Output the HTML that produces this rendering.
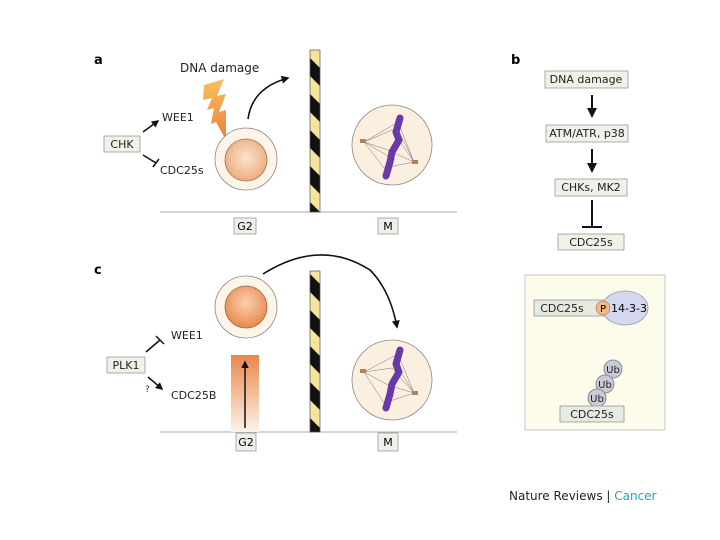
<!DOCTYPE html>
<html><head><meta charset="utf-8"><style>
body{margin:0;background:#fff;}
svg{display:block;font-family:"DejaVu Sans","Liberation Sans",sans-serif;}
</style></head><body>
<svg width="720" height="540" viewBox="0 0 720 540" xmlns="http://www.w3.org/2000/svg">
<defs>
<marker id="ah" viewBox="0 0 10 10" refX="8" refY="5" markerWidth="5" markerHeight="5" orient="auto"><path d="M0,0L10,5L0,10z" fill="#111"/></marker>
<pattern id="stripe" patternUnits="userSpaceOnUse" width="10" height="36" patternTransform="skewY(45)">
<rect width="10" height="18" fill="#111"/><rect y="18" width="10" height="18" fill="#f6e49a"/></pattern>
<radialGradient id="nucA" cx="0.5" cy="0.45" r="0.6"><stop offset="0" stop-color="#fbe3d0"/><stop offset="1" stop-color="#eda777"/></radialGradient>
<radialGradient id="nucC" cx="0.5" cy="0.4" r="0.6"><stop offset="0" stop-color="#fbd0b0"/><stop offset="1" stop-color="#e8884a"/></radialGradient>
<linearGradient id="bar" x1="0" y1="0" x2="0" y2="1"><stop offset="0" stop-color="#e8874a"/><stop offset="1" stop-color="#fdf3e8"/></linearGradient>
<linearGradient id="bolt" x1="0" y1="0" x2="0" y2="1"><stop offset="0" stop-color="#f9c060"/><stop offset="1" stop-color="#e8803a"/></linearGradient>
</defs>

<!-- Panel a -->
<text x="94" y="64" font-size="13" font-weight="bold">a</text>
<line x1="160" y1="212" x2="457" y2="212" stroke="#aaa" stroke-width="1"/>
<rect x="310" y="50" width="10" height="162" fill="url(#stripe)" stroke="#555" stroke-width="0.7"/>
<text x="180" y="72" font-size="12" fill="#222">DNA damage</text>
<path d="M204,85 L224,79 L217,96 L226,94 L219,112 L226,110 L226,140 L216,122 L211,124 L214,108 L207,110 L212,98 L203,100 Z" fill="url(#bolt)"/>
<path d="M248,119 Q252,88 288,78" fill="none" stroke="#111" stroke-width="1.6" marker-end="url(#ah)"/>
<circle cx="246" cy="159" r="31" fill="#fdf5e8" stroke="#888" stroke-width="0.8"/>
<circle cx="246" cy="160" r="21" fill="url(#nucA)" stroke="#a07050" stroke-width="0.8"/>
<circle cx="392" cy="145" r="40" fill="#fbf0e0" stroke="#888" stroke-width="0.8"/>
<g stroke="#777" stroke-width="0.5"><path d="M364,142 L398,122 M364,142 L392,130 M364,142 L388,150 M364,142 L384,168 M364,142 L395,160 M414,162 L398,122 M414,162 L392,130 M414,162 L388,150 M414,162 L384,168 M414,162 L402,138"/></g>
<path d="M400,118 L396,132 L399,140 L392,152 L390,162 L386,176" stroke="#6a38a8" stroke-width="7" fill="none" stroke-linecap="round" stroke-linejoin="round"/>
<rect x="360" y="139" width="6" height="4" fill="#b0805a"/><rect x="412" y="160" width="6" height="4" fill="#b0805a"/>
<rect x="104" y="136" width="36" height="16" fill="#eef2e8" stroke="#999" stroke-width="0.8"/>
<text x="122" y="148" font-size="11" text-anchor="middle" fill="#222">CHK</text>
<line x1="143" y1="132" x2="158" y2="121" stroke="#111" stroke-width="1.5" marker-end="url(#ah)"/>
<text x="162" y="121" font-size="11" fill="#222">WEE1</text>
<line x1="143" y1="155" x2="156" y2="163" stroke="#111" stroke-width="1.5"/><line x1="153" y1="167" x2="159" y2="159" stroke="#111" stroke-width="1.5"/>
<text x="160" y="174" font-size="11" fill="#222">CDC25s</text>
<rect x="234" y="218" width="22" height="16" fill="#eef0ea" stroke="#999" stroke-width="0.8"/>
<text x="245" y="230" font-size="11" text-anchor="middle">G2</text>
<rect x="378" y="218" width="20" height="16" fill="#eef0ea" stroke="#999" stroke-width="0.8"/>
<text x="388" y="230" font-size="11" text-anchor="middle">M</text>

<!-- Panel c -->
<text x="94" y="274" font-size="13" font-weight="bold">c</text>
<line x1="160" y1="432" x2="457" y2="432" stroke="#aaa" stroke-width="1"/>
<rect x="310" y="271" width="10" height="161" fill="url(#stripe)" stroke="#555" stroke-width="0.7"/>
<path d="M263,274 Q320,238 370,270 Q390,290 397,327" fill="none" stroke="#111" stroke-width="1.6" marker-end="url(#ah)"/>
<circle cx="246" cy="307" r="31" fill="#fdf5e8" stroke="#888" stroke-width="0.8"/>
<circle cx="246" cy="307" r="21" fill="url(#nucC)" stroke="#a06040" stroke-width="0.8"/>
<rect x="231" y="355" width="28" height="77" fill="url(#bar)"/>
<line x1="245" y1="428" x2="245" y2="362" stroke="#111" stroke-width="1.5" marker-end="url(#ah)"/>
<circle cx="392" cy="380" r="40" fill="#fbf0e0" stroke="#888" stroke-width="0.8"/>
<g stroke="#777" stroke-width="0.5"><path d="M364,372 L398,354 M364,372 L392,368 M364,372 L388,385 M364,372 L384,403 M414,393 L398,354 M414,393 L392,368 M414,393 L388,385 M414,393 L384,403 M414,393 L402,374"/></g>
<path d="M400,350 L396,364 L399,372 L392,384 L390,394 L386,408" stroke="#6a38a8" stroke-width="7" fill="none" stroke-linecap="round" stroke-linejoin="round"/>
<rect x="360" y="369" width="6" height="4" fill="#b0805a"/><rect x="412" y="391" width="6" height="4" fill="#b0805a"/>
<rect x="107" y="357" width="38" height="16" fill="#eef2e8" stroke="#999" stroke-width="0.8"/>
<text x="126" y="369" font-size="11" text-anchor="middle" fill="#222">PLK1</text>
<line x1="146" y1="352" x2="160" y2="340" stroke="#111" stroke-width="1.5"/><line x1="156" y1="336" x2="164" y2="344" stroke="#111" stroke-width="1.5"/>
<text x="171" y="339" font-size="11" fill="#222">WEE1</text>
<text x="145" y="392" font-size="9" fill="#333">?</text>
<line x1="148" y1="377" x2="162" y2="389" stroke="#111" stroke-width="1.5" marker-end="url(#ah)"/>
<text x="171" y="399" font-size="11" fill="#222">CDC25B</text>
<rect x="236" y="433" width="20" height="18" fill="#eef0ea" stroke="#999" stroke-width="0.8"/>
<text x="246" y="446" font-size="11" text-anchor="middle">G2</text>
<rect x="378" y="433" width="20" height="18" fill="#eef0ea" stroke="#999" stroke-width="0.8"/>
<text x="388" y="446" font-size="11" text-anchor="middle">M</text>

<!-- Panel b -->
<text x="511" y="64" font-size="13" font-weight="bold">b</text>
<g font-size="11" text-anchor="middle" fill="#222">
<rect x="545" y="71" width="83" height="17" fill="#eef2e8" stroke="#999" stroke-width="0.8"/>
<text x="586" y="83">DNA damage</text>
<line x1="592" y1="95" x2="592" y2="116" stroke="#111" stroke-width="2" marker-end="url(#ah)"/>
<rect x="546" y="125" width="82" height="17" fill="#eef2e8" stroke="#999" stroke-width="0.8"/>
<text x="587" y="137">ATM/ATR, p38</text>
<line x1="592" y1="149" x2="592" y2="171" stroke="#111" stroke-width="2" marker-end="url(#ah)"/>
<rect x="555" y="179" width="72" height="17" fill="#eef2e8" stroke="#999" stroke-width="0.8"/>
<text x="591" y="191">CHKs, MK2</text>
<line x1="592" y1="200" x2="592" y2="227" stroke="#111" stroke-width="2"/>
<line x1="582" y1="227" x2="602" y2="227" stroke="#111" stroke-width="2"/>
<rect x="558" y="234" width="66" height="16" fill="#eef2e8" stroke="#999" stroke-width="0.8"/>
<text x="591" y="246">CDC25s</text>
</g>
<rect x="525" y="275" width="140" height="155" fill="#fdfbea" stroke="#bbb" stroke-width="0.8"/>
<rect x="534" y="300" width="70" height="16" fill="#e6ebe2" stroke="#999" stroke-width="0.8"/>
<text x="562" y="312" font-size="11" text-anchor="middle" fill="#222">CDC25s</text>
<ellipse cx="625" cy="308" rx="23" ry="17" fill="#d4d8ee" stroke="#99a" stroke-width="0.8"/>
<circle cx="603" cy="308" r="7" fill="#f0b888" stroke="#a07050" stroke-width="0.6"/>
<text x="603" y="312" font-size="10" text-anchor="middle">P</text>
<text x="629" y="312" font-size="11" text-anchor="middle">14-3-3</text>
<g font-size="10" text-anchor="middle" fill="#222">
<circle cx="613" cy="369" r="9" fill="#c8cad8" stroke="#777" stroke-width="0.8"/><text x="613" y="373">Ub</text>
<circle cx="605" cy="384" r="9" fill="#c8cad8" stroke="#777" stroke-width="0.8"/><text x="605" y="388">Ub</text>
<circle cx="597" cy="398" r="9" fill="#c8cad8" stroke="#777" stroke-width="0.8"/><text x="597" y="402">Ub</text>
</g>
<rect x="560" y="406" width="64" height="16" fill="#e6ebe2" stroke="#999" stroke-width="0.8"/>
<text x="592" y="418" font-size="11" text-anchor="middle" fill="#222">CDC25s</text>

<text x="509" y="500" font-size="12" fill="#222">Nature Reviews | <tspan fill="#2a9fbf">Cancer</tspan></text>
</svg>
</body></html>
